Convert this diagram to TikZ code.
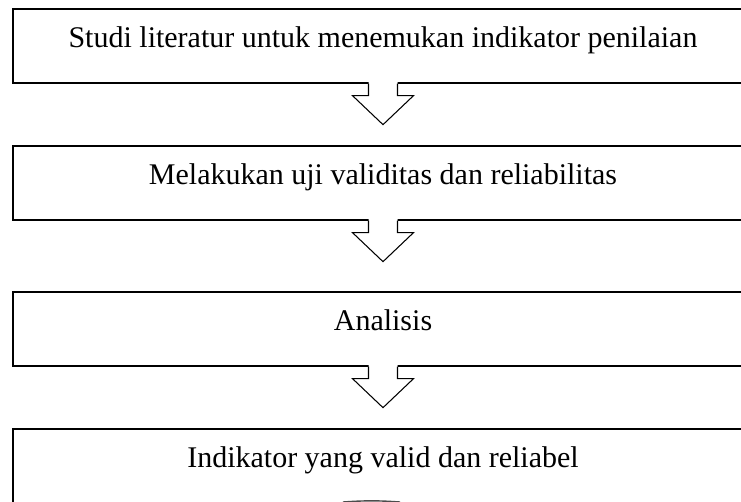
\documentclass[tikz,border=0pt]{standalone}
\usepackage{fontspec}
\setmainfont{Liberation Serif}
\usetikzlibrary{calc}
\definecolor{lineBlack}{RGB}{0,0,0}

\begin{document}
\begin{tikzpicture}[x=0.03cm,y=-0.03cm,
  stepbox/.style={draw=lineBlack,fill=white,line width=1.4pt,minimum width=22.2cm,text height=1.15cm,text depth=1.07cm,inner ysep=0pt,anchor=north,font=\fontsize{25.6}{30}\selectfont},
  blockarrow/.style={draw=lineBlack,line width=0.9pt,line join=miter}]
\path[use as bounding box] (0,0) rectangle (741,501);
\clip (0,0) rectangle (741,501);

\node[stepbox] (studi) at (383,8) {Studi literatur untuk menemukan indikator penilaian};
\node[stepbox] (uji) at (383,145) {Melakukan uji validitas dan reliabilitas};
\node[stepbox] (analisis) at (383,291) {Analisis};
\node[stepbox] (indikator) at (383,428) {Indikator yang valid dan reliabel};

\foreach \src in {studi,uji,analisis}{
  \fill[white] (\src.south) ++(-14.5,-1.5) -- ++(0,13.5) -- ++(-16,0) -- ++(30.5,29) -- ++(30.5,-29) -- ++(-16,0) -- ++(0,-13.5) -- cycle;
  \draw[blockarrow] (\src.south) ++(-14.5,0) -- ++(0,12) -- ++(-16,0) -- ++(30.5,29) -- ++(30.5,-29) -- ++(-16,0) -- ++(0,-12);
}

\draw[line width=1.2pt,lineBlack!70] (343,502) to[bend left=4] (400,502);
\end{tikzpicture}
\end{document}
